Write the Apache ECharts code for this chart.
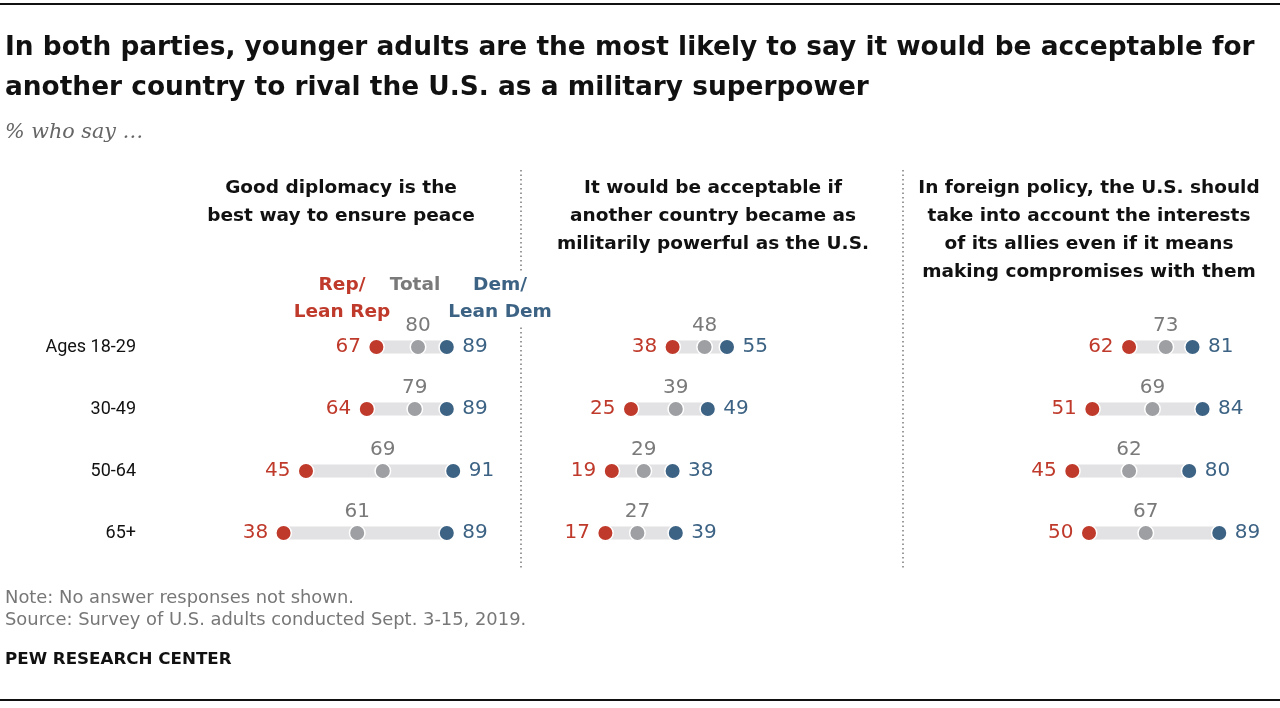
<!DOCTYPE html>
<html>
<head>
<meta charset="utf-8">
<script src="https://cdn.jsdelivr.net/npm/echarts@6/dist/echarts.min.js"></script>
<style>
  html, body { margin: 0; padding: 0; background: #fff; }
  #chart { width: 1280px; height: 708px; }
</style>
</head>
<body>
<div id="chart"></div>
<script>
// age groups, top to bottom
const ages = ['Ages 18-29', '30-49', '50-64', '65+'];

// Good diplomacy is the best way to ensure peace
const diploRep = [67, 64, 45, 38];
const diploTotal = [80, 79, 69, 61];
const diploDem = [89, 89, 91, 89];

// Acceptable if another country became as militarily powerful
const rivalRep = [38, 25, 19, 17];
const rivalTotal = [48, 39, 29, 27];
const rivalDem = [55, 49, 38, 39];

// Take into account the interests of allies
const alliesRep = [62, 51, 45, 50];
const alliesTotal = [73, 69, 62, 67];
const alliesDem = [81, 84, 80, 89];

const RED = '#BF3A2B';
const GREY_DOT = '#9D9FA2';
const GREY_TXT = '#7A7A7A';
const BLUE = '#3D6384';
const BAR = '#E2E2E4';
const FONT = 'Roboto, "Liberation Sans", sans-serif';
const WIDE = '"DejaVu Sans", "Open Sans", sans-serif';

let chartDom = document.getElementById('chart');
let myChart = echarts.init(chartDom);

const panels = [
  { rep: diploRep, total: diploTotal, dem: diploDem, left: 162, width: 320 },
  { rep: rivalRep, total: rivalTotal, dem: rivalDem, left: 551, width: 320 },
  { rep: alliesRep, total: alliesTotal, dem: alliesDem, left: 922, width: 334 }
];

let grids = [], xAxes = [], yAxes = [], series = [];

panels.forEach((p, k) => {
  grids.push({ left: p.left, width: p.width, top: 316, height: 248 });
  xAxes.push({ gridIndex: k, type: 'value', min: 0, max: 100, show: false });
  yAxes.push({
    gridIndex: k, type: 'category', data: ages, inverse: true,
    axisLine: { show: false }, axisTick: { show: false }, splitLine: { show: false },
    axisLabel: {
      show: k === 0, margin: 26, color: '#111', fontSize: 18, fontFamily: FONT
    }
  });
  // grey band from rep to dem
  series.push({
    type: 'custom', xAxisIndex: k, yAxisIndex: k, silent: true,
    data: ages.map((a, i) => [p.rep[i], p.dem[i], i]),
    encode: { x: [0, 1], y: 2 },
    renderItem: function (params, api) {
      const a = api.coord([api.value(0), api.value(2)]);
      const b = api.coord([api.value(1), api.value(2)]);
      return {
        type: 'line',
        shape: { x1: a[0], y1: a[1], x2: b[0], y2: b[1] },
        style: { stroke: BAR, lineWidth: 13 }
      };
    },
    z: 1
  });
  const dots = [
    { vals: p.rep, color: RED, txt: RED, pos: 'left' },
    { vals: p.total, color: GREY_DOT, txt: GREY_TXT, pos: 'top' },
    { vals: p.dem, color: BLUE, txt: BLUE, pos: 'right' }
  ];
  dots.forEach(d => {
    series.push({
      type: 'scatter', xAxisIndex: k, yAxisIndex: k, silent: true,
      symbolSize: 15.5,
      itemStyle: { color: d.color, borderColor: '#fff', borderWidth: 1.5, opacity: 1 },
      data: d.vals.map((v, i) => [v, i]),
      label: {
        show: true, position: d.pos, distance: d.pos === 'top' ? 3 : 7,
        color: d.txt, fontSize: 20, fontFamily: WIDE,
        formatter: pr => pr.value[0]
      },
      z: 3
    });
  });
});

function txt(x, y, text, opts) {
  return Object.assign({
    type: 'text', x: x, y: y,
    style: Object.assign({ text: text, fill: '#111', font: '18px ' + FONT, textAlign: 'left', textVerticalAlign: 'middle' }, opts || {})
  });
}

const headStyle = { font: 'bold 18.5px ' + WIDE, textAlign: 'center', lineHeight: 28, textVerticalAlign: 'top' };
const legStyle = (c) => ({ font: 'bold 18.5px ' + WIDE, fill: c, textAlign: 'center', lineHeight: 27, textVerticalAlign: 'top' });

let graphics = [
  { type: 'rect', shape: { x: 0, y: 3, width: 1280, height: 2 }, style: { fill: '#111' } },
  { type: 'rect', shape: { x: 0, y: 699, width: 1280, height: 2 }, style: { fill: '#111' } },
  txt(5, 48, 'In both parties, younger adults are the most likely to say it would be acceptable for', { font: 'bold 26.4px ' + WIDE }),
  txt(5, 88, 'another country to rival the U.S. as a military superpower', { font: 'bold 26.4px ' + WIDE }),
  txt(5, 133, '% who say …', { font: 'italic 20.7px Georgia, "DejaVu Serif", serif', fill: '#666' }),
  txt(341, 174, 'Good diplomacy is the\nbest way to ensure peace', headStyle),
  txt(713, 174, 'It would be acceptable if\nanother country became as\nmilitarily powerful as the U.S.', headStyle),
  txt(1089, 174, 'In foreign policy, the U.S. should\ntake into account the interests\nof its allies even if it means\nmaking compromises with them', headStyle),
  // legend
  txt(342, 272, 'Rep/\nLean Rep', legStyle(RED)),
  txt(415, 272, 'Total', legStyle(GREY_TXT)),
  {
    type: 'text', x: 500, y: 272, z: 10,
    style: Object.assign(legStyle(BLUE), { text: 'Dem/\nLean Dem', backgroundColor: '#fff', padding: [0, 2] })
  },
  txt(5, 598, 'Note: No answer responses not shown.', { font: '17.9px ' + WIDE, fill: '#777' }),
  txt(5, 620, 'Source: Survey of U.S. adults conducted Sept. 3-15, 2019.', { font: '17.9px ' + WIDE, fill: '#777' }),
  txt(5, 660, 'PEW RESEARCH CENTER', { font: 'bold 16.7px ' + WIDE, fill: '#111' })
];

// dotted dividers
[521, 903].forEach(x => {
  graphics.push({
    type: 'line', z: 0,
    shape: { x1: x, y1: 170, x2: x, y2: 570 },
    style: { stroke: '#666', lineWidth: 1.3, lineDash: [1.5, 3] }
  });
});

let option = {
  animation: false,
  grid: grids,
  xAxis: xAxes,
  yAxis: yAxes,
  series: series,
  graphic: graphics
};
myChart.setOption(option);
window.onresize = () => {
  myChart.resize();
};
</script>
</body>
</html>
